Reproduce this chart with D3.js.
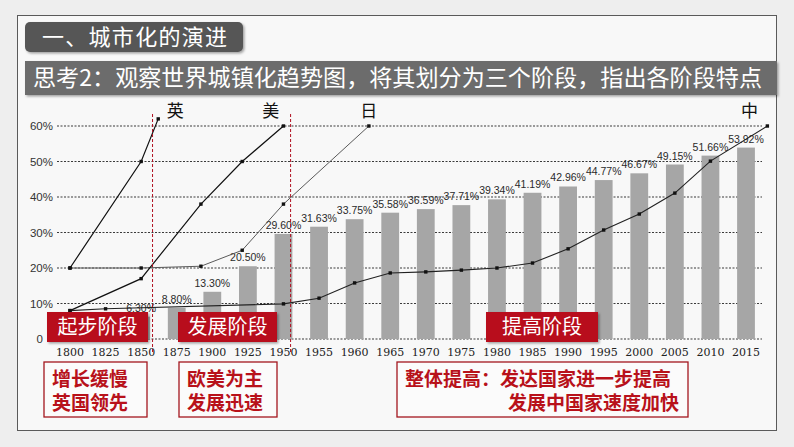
<!DOCTYPE html>
<html><head><meta charset="utf-8">
<script src="https://cdn.jsdelivr.net/npm/d3@7"></script>
<style>body{margin:0;background:#eeeeee;} svg{display:block}</style>
</head><body><svg id="c" width="794" height="447"></svg>
<script>
// ---- data ----
const categories = ["1800","1825","1850","1875","1900","1925","1950","1955","1960","1965","1970","1975","1980","1985","1990","1995","2000","2005","2010","2015"];
const urbanRate = [3.0,4.5,6.3,8.8,13.3,20.5,29.6,31.63,33.75,35.58,36.59,37.71,39.34,41.19,42.96,44.77,46.67,49.15,51.66,53.92];
const hiddenLabels = ["1800","1825"]; // their value labels sit behind the stage box in the source
const yTicks = [0,10,20,30,40,50,60];
const ukYears = [1800,1850,1862];             const ukValues = [20,50,62];
const usYears = [1800,1850,1892,1921,1950];   const usValues = [8,17,38,50,60];
const jpYears = [1800,1850,1892,1921,1950,1962]; const jpValues = [20,20,20.5,25,38,60];
const cnYears = [1800,1825,1950,1955,1960,1965,1970,1975,1980,1985,1990,1995,2000,2005,2010,2018];
const cnValues = [8,8.5,9.9,11.5,15.8,18.6,18.9,19.4,20,21.4,25.4,30.7,35.2,41.1,50.1,60];
const countryNames = ["英","美","日","中"];
const countryYears = [1874,1941,1962,2015.5];
const dividerYears = [1858,1951];
const stageNames = ["起步阶段","发展阶段","提高阶段"];
const titleText = "一、城市化的演进";
const questionText = "思考2：观察世界城镇化趋势图，将其划分为三个阶段，指出各阶段特点";
const noteBox1 = ["增长缓慢","英国领先"];
const noteBox2 = ["欧美为主","发展迅速"];
const noteBox3 = ["整体提高：发达国家进一步提高","发展中国家速度加快"];

// ---- drawing ----
const svg = d3.select("#c");
const CJK = "'Noto Sans CJK SC', 'Noto Sans', sans-serif";
const red = "#b8111a";

const defs = svg.append("defs");
const f = defs.append("filter").attr("id","sh").attr("x","-10%").attr("y","-20%").attr("width","130%").attr("height","160%");
f.append("feDropShadow").attr("dx",1.5).attr("dy",1.5).attr("stdDeviation",1.2).attr("flood-color","#000").attr("flood-opacity",0.35);

// frame
svg.append("rect").attr("x",17.5).attr("y",15.5).attr("width",759).attr("height",415)
  .attr("fill","#f8f8f8").attr("stroke","#5a5a5a").attr("stroke-width",1);

// title
svg.append("rect").attr("x",25).attr("y",22).attr("width",218).attr("height",30).attr("rx",5)
  .attr("fill","#575757").attr("filter","url(#sh)");
svg.append("text").attr("x",42).attr("y",45).attr("fill","#fff").attr("font-family",CJK)
  .attr("font-size",22).attr("textLength",185).text(titleText);

svg.append("rect").attr("x",25).attr("y",61).attr("width",752).attr("height",34)
  .attr("fill","#6c6c6c").attr("filter","url(#sh)");
svg.append("text").attr("x",33).attr("y",86).attr("fill","#fff").attr("font-family",CJK)
  .attr("font-size",23).attr("textLength",729).attr("lengthAdjust","spacingAndGlyphs").text(questionText);

// scales
const x = d3.scaleBand().domain(categories).range([52.2, 763.8]).padding(0);
const bw = x.bandwidth();
const xYear = d3.scaleLinear().domain(categories.map(Number)).range(categories.map(c => x(c) + bw/2));
const y = d3.scaleLinear().domain([0,60]).range([339,126]);

// gridlines
svg.append("g").selectAll("line").data(yTicks).join("line")
  .attr("x1",57).attr("x2",762).attr("y1",d=>y(d)).attr("y2",d=>y(d))
  .attr("stroke","#3a3a3a").attr("stroke-width",1).attr("stroke-dasharray","2,1.5");

// y labels
svg.append("g").selectAll("text").data(yTicks).join("text")
  .attr("x",d=> d===0 ? 43 : 53).attr("y",d=>y(d)+4).attr("text-anchor","end")
  .attr("font-family","'Liberation Sans', Arial, sans-serif").attr("font-size",11.5).attr("fill","#333")
  .text(d=> d===0 ? "0" : d + "%");

// bars
const barData = categories.map((c,i)=>({c, v:urbanRate[i]}));
svg.append("g").selectAll("rect").data(barData).join("rect")
  .attr("x",d=>x(d.c)+bw*0.25).attr("width",bw*0.5)
  .attr("y",d=>y(d.v)).attr("height",d=>y(0)-y(d.v))
  .attr("fill","#a6a6a6");
svg.append("g").selectAll("text").data(barData.filter(d=>!hiddenLabels.includes(d.c))).join("text")
  .attr("x",d=>x(d.c)+bw/2).attr("y",d=>y(d.v)-5).attr("text-anchor","middle")
  .attr("font-family","'Liberation Sans', Arial, sans-serif").attr("font-size",10.5).attr("fill","#2a2a2a")
  .text(d=>d.v.toFixed(2)+"%");

// lines
function drawLine(years, vals, color, w){
  const pts = years.map((yr,i)=>[xYear(yr), y(vals[i])]);
  svg.append("path").attr("d", d3.line()(pts)).attr("fill","none").attr("stroke",color).attr("stroke-width",w);
  svg.append("g").selectAll("rect").data(pts).join("rect")
    .attr("x",p=>p[0]-1.7).attr("y",p=>p[1]-1.7).attr("width",3.4).attr("height",3.4).attr("fill","#111");
}
drawLine(jpYears, jpValues, "#5a5a5a", 1);
drawLine(cnYears, cnValues, "#222", 1.1);
drawLine(usYears, usValues, "#111", 1.2);
drawLine(ukYears, ukValues, "#111", 1.2);

// dividers
svg.append("g").selectAll("line").data(dividerYears).join("line")
  .attr("x1",d=>xYear(d)).attr("x2",d=>xYear(d)).attr("y1",114).attr("y2",354)
  .attr("stroke","#b01020").attr("stroke-width",1).attr("stroke-dasharray","3,2");

// country labels
svg.append("g").selectAll("text").data(countryNames).join("text")
  .attr("x",(d,i)=>xYear(countryYears[i])).attr("y",117).attr("text-anchor","middle")
  .attr("font-family",CJK).attr("font-size",17).attr("fill","#111").text(d=>d);

// x labels
svg.append("g").selectAll("text").data(categories).join("text")
  .attr("x",d=>x(d)+bw/2).attr("y",356).attr("text-anchor","middle")
  .attr("font-family","'DejaVu Serif', 'Liberation Serif', serif").attr("font-size",11).attr("fill","#222")
  .text(d=>d);

// stage boxes
const stageBoxes = [[47,101],[178,99],[486,112]];
stageBoxes.forEach((b,i)=>{
  svg.append("rect").attr("x",b[0]).attr("y",312).attr("width",b[1]).attr("height",30)
    .attr("fill",red).attr("filter","url(#sh)");
  svg.append("text").attr("x",b[0]+b[1]/2).attr("y",334).attr("text-anchor","middle")
    .attr("font-family",CJK).attr("font-size",20).attr("fill","#fff").text(stageNames[i]);
});

// note boxes
function noteBox(bx, bwid, lines, anchor){
  svg.append("rect").attr("x",bx).attr("y",362).attr("width",bwid).attr("height",55)
    .attr("fill","#fbfbfb").attr("stroke","#a3161e").attr("stroke-width",1.3);
  lines.forEach((t,i)=>{
    const isEnd = anchor==="end" && i===1;
    svg.append("text").attr("x", isEnd ? bx+bwid-9 : bx+8).attr("y",386+i*24)
      .attr("text-anchor", isEnd ? "end" : "start")
      .attr("font-family",CJK).attr("font-weight","bold").attr("font-size",19).attr("fill",red).text(t);
  });
}
noteBox(44,103,noteBox1);
noteBox(179,98,noteBox2);
noteBox(397,291,noteBox3,"end");
</script></body></html>
